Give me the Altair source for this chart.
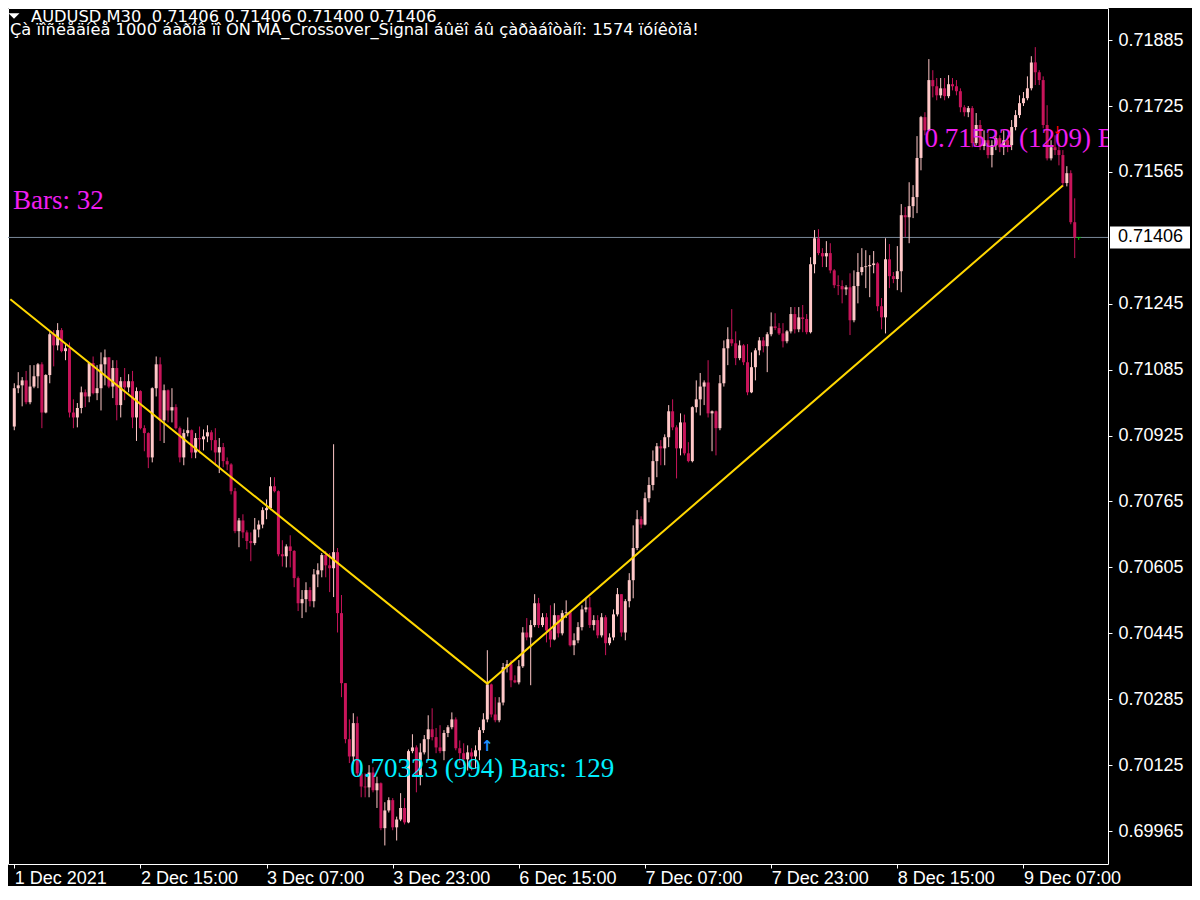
import altair as alt
import pandas as pd

# ---------------- data (prices) ----------------
OPEN_FIRST = 0.70947

CLOSE = [
    0.71040, 0.71047, 0.71059, 0.71006, 0.71044, 0.71069, 0.71098, 0.70981, 0.71072, 0.71171,
    0.71144, 0.71181, 0.71130, 0.71137, 0.70981, 0.70969, 0.70992, 0.71030, 0.71020, 0.71101,
    0.71028, 0.71040, 0.71098, 0.71115, 0.71044, 0.71089, 0.70999, 0.71057, 0.71042, 0.71057,
    0.70969, 0.71033, 0.70943, 0.70931, 0.70872, 0.71040, 0.71098, 0.70962, 0.71035, 0.70986,
    0.70994, 0.70943, 0.70872, 0.70931, 0.70938, 0.70884, 0.70919, 0.70916, 0.70923, 0.70933,
    0.70914, 0.70884, 0.70897, 0.70863, 0.70855, 0.70790, 0.70693, 0.70719, 0.70690, 0.70669,
    0.70664, 0.70697, 0.70709, 0.70744, 0.70749, 0.70802, 0.70790, 0.70637, 0.70632, 0.70656,
    0.70645, 0.70579, 0.70518, 0.70528, 0.70550, 0.70523, 0.70588, 0.70598, 0.70635, 0.70610,
    0.70603, 0.70642, 0.70494, 0.70324, 0.70188, 0.70146, 0.70227, 0.70105, 0.70073, 0.70071,
    0.70107, 0.70064, 0.70081, 0.69972, 0.70015, 0.70040, 0.69974, 0.69993, 0.70021, 0.69986,
    0.70159, 0.70168, 0.70097, 0.70156, 0.70188, 0.70212, 0.70193, 0.70168, 0.70159, 0.70203,
    0.70217, 0.70236, 0.70166, 0.70154, 0.70139, 0.70156, 0.70146, 0.70161, 0.70210, 0.70236,
    0.70321, 0.70248, 0.70234, 0.70277, 0.70363, 0.70370, 0.70331, 0.70326, 0.70365, 0.70447,
    0.70435, 0.70465, 0.70518, 0.70465, 0.70484, 0.70452, 0.70430, 0.70489, 0.70445, 0.70494,
    0.70496, 0.70416, 0.70428, 0.70460, 0.70503, 0.70508, 0.70465, 0.70477, 0.70440, 0.70484,
    0.70421, 0.70435, 0.70491, 0.70540, 0.70447, 0.70523, 0.70574, 0.70652, 0.70722, 0.70709,
    0.70773, 0.70805, 0.70863, 0.70899, 0.70894, 0.70921, 0.70984, 0.70945, 0.70894, 0.70957,
    0.70882, 0.70863, 0.70994, 0.71013, 0.71044, 0.71054, 0.70979, 0.70984, 0.70943, 0.71052,
    0.71137, 0.71159, 0.71149, 0.71113, 0.71144, 0.71103, 0.71030, 0.71091, 0.71132, 0.71156,
    0.71142, 0.71171, 0.71190, 0.71186, 0.71173, 0.71154, 0.71178, 0.71220, 0.71183, 0.71212,
    0.71208, 0.71176, 0.71341, 0.71404, 0.71368, 0.71360, 0.71368, 0.71326, 0.71290, 0.71288,
    0.71280, 0.71285, 0.71205, 0.71288, 0.71322, 0.71334, 0.71336, 0.71339, 0.71343, 0.71239,
    0.71212, 0.71353, 0.71312, 0.71305, 0.71324, 0.71460, 0.71455, 0.71482, 0.71504, 0.71599,
    0.71698, 0.71666, 0.71788, 0.71773, 0.71751, 0.71768, 0.71749, 0.71778, 0.71773, 0.71761,
    0.71722, 0.71710, 0.71720, 0.71635, 0.71679, 0.71628, 0.71642, 0.71606, 0.71630, 0.71647,
    0.71625, 0.71642, 0.71630, 0.71674, 0.71703, 0.71732, 0.71744, 0.71768, 0.71831, 0.71807,
    0.71788, 0.71679, 0.71598, 0.71625, 0.71618, 0.71606, 0.71538, 0.71562, 0.71443, 0.71406,
    0.71406,
]

HIGH = [
    0.71052, 0.71079, 0.71067, 0.71082, 0.71096, 0.71096, 0.71101, 0.71103, 0.71074, 0.71176,
    0.71181, 0.71198, 0.71186, 0.71149, 0.71151, 0.71013, 0.71004, 0.71044, 0.71037, 0.71103,
    0.71117, 0.71096, 0.71127, 0.71134, 0.71115, 0.71108, 0.71108, 0.71067, 0.71089, 0.71074,
    0.71082, 0.71042, 0.71035, 0.70950, 0.70933, 0.71042, 0.71117, 0.71115, 0.71049, 0.71037,
    0.71040, 0.71001, 0.70947, 0.70940, 0.70969, 0.70940, 0.70931, 0.70947, 0.70940, 0.70950,
    0.70938, 0.70943, 0.70919, 0.70907, 0.70872, 0.70858, 0.70798, 0.70725, 0.70734, 0.70695,
    0.70690, 0.70725, 0.70719, 0.70751, 0.70770, 0.70824, 0.70824, 0.70792, 0.70671, 0.70661,
    0.70683, 0.70647, 0.70583, 0.70550, 0.70569, 0.70557, 0.70601, 0.70615, 0.70640, 0.70645,
    0.70640, 0.70904, 0.70652, 0.70538, 0.70316, 0.70236, 0.70251, 0.70243, 0.70120, 0.70105,
    0.70125, 0.70120, 0.70097, 0.70083, 0.70035, 0.70047, 0.70045, 0.70000, 0.70057, 0.70045,
    0.70163, 0.70200, 0.70173, 0.70178, 0.70198, 0.70246, 0.70263, 0.70215, 0.70222, 0.70210,
    0.70222, 0.70253, 0.70241, 0.70185, 0.70178, 0.70173, 0.70166, 0.70173, 0.70217, 0.70251,
    0.70404, 0.70323, 0.70290, 0.70290, 0.70373, 0.70380, 0.70380, 0.70343, 0.70380, 0.70460,
    0.70482, 0.70477, 0.70540, 0.70531, 0.70494, 0.70494, 0.70513, 0.70518, 0.70477, 0.70501,
    0.70525, 0.70494, 0.70445, 0.70472, 0.70513, 0.70531, 0.70533, 0.70489, 0.70489, 0.70494,
    0.70489, 0.70445, 0.70503, 0.70555, 0.70540, 0.70528, 0.70591, 0.70707, 0.70744, 0.70729,
    0.70787, 0.70824, 0.70889, 0.70907, 0.70914, 0.70928, 0.70999, 0.71013, 0.70950, 0.70979,
    0.70976, 0.70909, 0.70996, 0.71059, 0.71077, 0.71059, 0.71108, 0.70986, 0.70986, 0.71072,
    0.71156, 0.71188, 0.71232, 0.71178, 0.71156, 0.71147, 0.71147, 0.71127, 0.71137, 0.71164,
    0.71164, 0.71176, 0.71224, 0.71222, 0.71198, 0.71198, 0.71181, 0.71237, 0.71237, 0.71237,
    0.71242, 0.71220, 0.71358, 0.71424, 0.71426, 0.71380, 0.71397, 0.71392, 0.71329, 0.71314,
    0.71302, 0.71290, 0.71319, 0.71326, 0.71368, 0.71380, 0.71375, 0.71363, 0.71373, 0.71346,
    0.71259, 0.71404, 0.71390, 0.71322, 0.71385, 0.71487, 0.71480, 0.71540, 0.71533, 0.71652,
    0.71701, 0.71710, 0.71839, 0.71812, 0.71793, 0.71793, 0.71793, 0.71800, 0.71793, 0.71788,
    0.71768, 0.71727, 0.71725, 0.71725, 0.71708, 0.71691, 0.71666, 0.71659, 0.71642, 0.71666,
    0.71654, 0.71666, 0.71654, 0.71691, 0.71715, 0.71751, 0.71759, 0.71797, 0.71846, 0.71868,
    0.71812, 0.71797, 0.71727, 0.71642, 0.71654, 0.71635, 0.71618, 0.71579, 0.71569, 0.71501,
    0.71406,
]

LOW = [
    0.70938, 0.71028, 0.70996, 0.71001, 0.71001, 0.71040, 0.71040, 0.70943, 0.70979, 0.71052,
    0.71093, 0.71132, 0.71127, 0.71108, 0.70969, 0.70943, 0.70945, 0.70979, 0.70994, 0.71006,
    0.71025, 0.71011, 0.70986, 0.71047, 0.71040, 0.71016, 0.70962, 0.70969, 0.71011, 0.71030,
    0.70943, 0.70912, 0.70940, 0.70887, 0.70846, 0.70860, 0.71020, 0.70912, 0.70907, 0.70957,
    0.70957, 0.70940, 0.70860, 0.70853, 0.70923, 0.70870, 0.70870, 0.70882, 0.70889, 0.70909,
    0.70889, 0.70853, 0.70834, 0.70848, 0.70841, 0.70782, 0.70688, 0.70654, 0.70676, 0.70649,
    0.70620, 0.70659, 0.70678, 0.70700, 0.70722, 0.70744, 0.70787, 0.70632, 0.70607, 0.70605,
    0.70605, 0.70557, 0.70499, 0.70482, 0.70496, 0.70510, 0.70508, 0.70557, 0.70581, 0.70581,
    0.70545, 0.70533, 0.70447, 0.70290, 0.70178, 0.70130, 0.70127, 0.70097, 0.70047, 0.70047,
    0.70047, 0.70059, 0.70021, 0.69967, 0.69930, 0.70010, 0.69967, 0.69942, 0.69989, 0.69981,
    0.69984, 0.70154, 0.70059, 0.70076, 0.70151, 0.70137, 0.70185, 0.70154, 0.70154, 0.70137,
    0.70193, 0.70212, 0.70161, 0.70130, 0.70125, 0.70112, 0.70112, 0.70117, 0.70137, 0.70203,
    0.70229, 0.70241, 0.70229, 0.70229, 0.70270, 0.70350, 0.70314, 0.70324, 0.70321, 0.70361,
    0.70428, 0.70319, 0.70460, 0.70458, 0.70460, 0.70423, 0.70411, 0.70428, 0.70435, 0.70440,
    0.70482, 0.70413, 0.70392, 0.70421, 0.70452, 0.70496, 0.70458, 0.70452, 0.70433, 0.70435,
    0.70392, 0.70416, 0.70428, 0.70486, 0.70437, 0.70428, 0.70508, 0.70530, 0.70647, 0.70700,
    0.70707, 0.70763, 0.70792, 0.70824, 0.70853, 0.70853, 0.70897, 0.70938, 0.70821, 0.70877,
    0.70877, 0.70860, 0.70860, 0.70981, 0.70974, 0.70999, 0.70969, 0.70887, 0.70877, 0.70938,
    0.71044, 0.71096, 0.71142, 0.71096, 0.71108, 0.71096, 0.71023, 0.71028, 0.71059, 0.71120,
    0.71127, 0.71079, 0.71166, 0.71181, 0.71169, 0.71139, 0.71149, 0.71173, 0.71173, 0.71176,
    0.71176, 0.71171, 0.71173, 0.71319, 0.71363, 0.71334, 0.71334, 0.71319, 0.71283, 0.71266,
    0.71246, 0.71266, 0.71169, 0.71200, 0.71246, 0.71314, 0.71283, 0.71261, 0.71319, 0.71227,
    0.71183, 0.71173, 0.71283, 0.71295, 0.71278, 0.71273, 0.71407, 0.71392, 0.71453, 0.71465,
    0.71569, 0.71654, 0.71664, 0.71746, 0.71739, 0.71744, 0.71739, 0.71744, 0.71763, 0.71751,
    0.71710, 0.71700, 0.71698, 0.71625, 0.71630, 0.71618, 0.71618, 0.71598, 0.71576, 0.71618,
    0.71613, 0.71606, 0.71613, 0.71618, 0.71666, 0.71696, 0.71725, 0.71739, 0.71763, 0.71776,
    0.71776, 0.71671, 0.71593, 0.71593, 0.71606, 0.71581, 0.71530, 0.71530, 0.71438, 0.71356,
    0.71400,
]

X_TICK_BARS = [0, 32, 64, 96, 128, 160, 192, 224, 256]
X_TICK_LABELS = ["1 Dec 2021", "2 Dec 15:00", "3 Dec 07:00", "3 Dec 23:00", "6 Dec 15:00",
                 "7 Dec 07:00", "7 Dec 23:00", "8 Dec 15:00", "9 Dec 07:00"]
Y_TICK_PRICES = [0.71885, 0.71725, 0.71565, 0.71245, 0.71085, 0.70925, 0.70765,
                 0.70605, 0.70445, 0.70285, 0.70125, 0.69965]
CURRENT_PRICE = [0.71406]

ZIGZAG_BARS = [-1, 120, 266]
ZIGZAG_PRICES = [0.71256, 0.70323, 0.71532]

MAGENTA_LABELS = ["Bars: 32", "0.71532 (1209) Bars: 32"]
MAGENTA_BARS = [-0.325, 230.9]
MAGENTA_PRICES = [0.71475, 0.71626]

CYAN_LABELS = ["0.70323 (994) Bars: 129"]
CYAN_BARS = [85.2]
CYAN_PRICES = [0.70095]

BUY_ARROW_BARS = [120]
BUY_ARROW_PRICES = [0.70171]
SELL_MARK_BARS = [264.6]
SELL_MARK_PRICES = [0.71664]

HEADER_1 = "AUDUSD,M30\u00a0 0.71406 0.71406 0.71400 0.71406"
HEADER_2 = ("Çà ïîñëåäíèå 1000 áàðîâ ïî ON MA_Crossover_Signal áûëî áû "
            "çàðàáîòàíî: 1574 ïóíêòîâ!")

# ---------------- tables ----------------
opens = [OPEN_FIRST] + CLOSE[:-1]
rows = []
for i, (o, c, h, l) in enumerate(zip(opens, CLOSE, HIGH, LOW)):
    d = "up" if c > o else ("down" if c < o else "doji")
    rows.append(dict(bar=i, open=o, close=c, high=max(h, o, c), low=min(l, o, c), dir=d))
df = pd.DataFrame(rows)

cur_df = pd.DataFrame({"price": CURRENT_PRICE})
zz_df = pd.DataFrame({"bar": ZIGZAG_BARS, "price": ZIGZAG_PRICES})
mag_df = pd.DataFrame({"bar": MAGENTA_BARS, "price": MAGENTA_PRICES, "t": MAGENTA_LABELS})
cyan_df = pd.DataFrame({"bar": CYAN_BARS, "price": CYAN_PRICES, "t": CYAN_LABELS})
buy_df = pd.DataFrame({"bar": BUY_ARROW_BARS, "price": BUY_ARROW_PRICES})
sell_df = pd.DataFrame({"bar": SELL_MARK_BARS, "price": SELL_MARK_PRICES})

# ---------------- scales / axes ----------------
x_scale = alt.Scale(domain=[-0.325, 276.175], nice=False, zero=False)
y_scale = alt.Scale(domain=[0.69885, 0.71963], nice=False, zero=False)

label_expr = ("[" + ",".join(repr(s) for s in X_TICK_LABELS) + "][indexof(["
              + ",".join(str(v) for v in X_TICK_BARS) + "], datum.value)]")

x_axis = alt.Axis(values=X_TICK_BARS, labelExpr=label_expr, title=None, grid=False,
                  domain=False, labelAlign="left", labelBaseline="top", labelColor="white",
                  labelFont="Liberation Sans", labelFontSize=18, labelPadding=1,
                  labelFlush=False, labelOverlap=False, tickColor="white", tickSize=4)
y_axis = alt.Axis(orient="right", values=Y_TICK_PRICES, format=".5f", title=None,
                  grid=False, domain=False, labelAlign="left", labelBaseline="middle",
                  labelColor="white", labelFont="Liberation Sans", labelFontSize=18,
                  labelPadding=6, labelFlush=False, labelOverlap=False,
                  tickColor="white", tickSize=4)


def X(f):
    return alt.X(f, type="quantitative", scale=x_scale, axis=x_axis)


def Y(f):
    return alt.Y(f, type="quantitative", scale=y_scale, axis=y_axis)


color = alt.Color("dir:N", legend=None,
                  scale=alt.Scale(domain=["up", "down", "doji"],
                                  range=["#FFC8C8", "#C8145A", "#00C800"]))

# ---------------- layers ----------------
hline = alt.Chart(cur_df).mark_rule(color="#7A8899", strokeWidth=1).encode(y=Y("price"))

wicks = alt.Chart(df).mark_rule(strokeWidth=1).encode(
    x=X("bar"), y=Y("low"), y2="high", color=color)

bodies = alt.Chart(df).transform_filter("datum.dir != 'doji'").mark_bar(size=3).encode(
    x=X("bar"), y=Y("open"), y2="close", color=color)

doji = alt.Chart(df).transform_filter("datum.dir == 'doji'").mark_tick(
    orient="horizontal", size=5, thickness=1).encode(x=X("bar"), y=Y("close"), color=color)

zigzag = alt.Chart(zz_df).mark_line(color="#FFD700", strokeWidth=2, clip=True).encode(
    x=X("bar"), y=Y("price"))

mag_text = alt.Chart(mag_df).mark_text(
    align="left", baseline="alphabetic", color="#F01EF0", font="Liberation Serif",
    fontSize=27, clip=True).encode(x=X("bar"), y=Y("price"), text="t:N")

cyan_text = alt.Chart(cyan_df).mark_text(
    align="left", baseline="alphabetic", color="#00EEFF", font="Liberation Serif",
    fontSize=27).encode(x=X("bar"), y=Y("price"), text="t:N")

buy_arrow = alt.Chart(buy_df).mark_text(
    text="↑", align="center", baseline="middle", color="#1E90FF", font="DejaVu Sans",
    fontSize=15, fontWeight="bold").encode(x=X("bar"), y=Y("price"))

sell_mark = alt.Chart(sell_df).mark_text(
    text="↓", align="center", baseline="middle", color="#FF0000", font="DejaVu Sans",
    fontSize=11, fontWeight="bold").encode(x=X("bar"), y=Y("price"))

price_box = alt.Chart(cur_df).mark_rect(color="white", yOffset=-11, y2Offset=11).encode(
    x=alt.value(1102), x2=alt.value(1182), y=Y("price"), y2="price")

price_text = alt.Chart(cur_df).mark_text(
    align="left", baseline="middle", color="black", font="Liberation Sans",
    fontSize=18).encode(x=alt.value(1110), y=Y("price"), text=alt.Text("price:Q", format=".5f"))

header_df = pd.DataFrame({"t": [HEADER_1]})
header2_df = pd.DataFrame({"t": [HEADER_2]})
header1 = alt.Chart(header_df).mark_text(
    align="left", baseline="alphabetic", color="white", font="DejaVu Sans",
    fontSize=16.3).encode(x=alt.value(23), y=alt.value(14), text="t:N")
header2 = alt.Chart(header2_df).mark_text(
    align="left", baseline="alphabetic", color="white", font="DejaVu Sans",
    fontSize=16.3).encode(x=alt.value(2), y=alt.value(26.5), text="t:N")
triangle = alt.Chart(pd.DataFrame({"a": [0]})).mark_point(
    shape="M-1,-0.5L1,-0.5L0,0.5Z", size=121, filled=True, color="white",
    opacity=1).encode(x=alt.value(6), y=alt.value(8))

chart = alt.layer(
    hline, wicks, bodies, doji, zigzag, mag_text, sell_mark, cyan_text, buy_arrow,
    price_box, price_text, header1, header2, triangle
).properties(
    width=1100, height=856, background="black",
    padding={"left": 0, "top": 0, "right": 84, "bottom": 22},
    autosize=alt.AutoSizeParams(type="none"),
).configure_view(stroke="white", strokeWidth=1)

chart.save("out.html", embed_options={"renderer": "svg", "actions": False})
